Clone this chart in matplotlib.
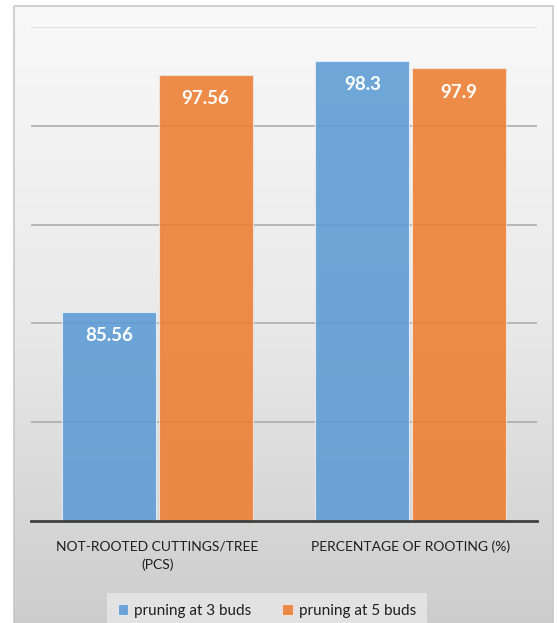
import numpy as np
import matplotlib.pyplot as plt
from matplotlib.patches import Rectangle

# data
categories = ['NOT-ROOTED CUTTINGS/TREE\n(PCS)', 'PERCENTAGE OF ROOTING (%)']
series_names = ['pruning at 3 buds', 'pruning at 5 buds']
buds3 = [85.56, 98.3]
buds5 = [97.56, 97.9]
value_labels3 = ['85.56', '98.3']
value_labels5 = ['97.56', '97.9']

plt.rcParams['font.family'] = ['Lato', 'DejaVu Sans']

W, H = 557, 623
fig = plt.figure(figsize=(W / 100, H / 100), dpi=100)
fig.patch.set_facecolor('white')

# chart-area background with a vertical gradient and a thin border
bg = fig.add_axes([0, 0, 1, 1], zorder=-10)
bg.set_xlim(0, W)
bg.set_ylim(H, 0)
bg.axis('off')
grad = np.linspace(0, 1, 256).reshape(-1, 1)
bg.imshow(grad, cmap=plt.matplotlib.colors.LinearSegmentedColormap.from_list(
    'g', ['#f9f9f9', '#e9e9e9', '#cbcbcb']), extent=[14, 553, H + 20, 6],
    aspect='auto', zorder=0)
bg.add_patch(Rectangle((14, 6), 539, H + 20, fill=False, edgecolor='#c8c8c8',
                       linewidth=1.2, zorder=1))

ax = fig.add_axes([31 / W, 1 - 521 / H, 506 / W, 494 / H])
ax.patch.set_alpha(0)

x = np.arange(len(categories))
width = 0.372
off = 0.19
colors = ['#5b9bd5', '#ed7d31']

b1 = ax.bar(x - off, buds3, width, bottom=0, color=colors[0], alpha=0.88,
            edgecolor='#e8eef5', linewidth=0.8, label=series_names[0], zorder=3)
b2 = ax.bar(x + off, buds5, width, bottom=0, color=colors[1], alpha=0.88,
            edgecolor='#f3e6de', linewidth=0.8, label=series_names[1], zorder=3)

for bars, labs in [(b1, value_labels3), (b2, value_labels5)]:
    for rect, lab in zip(bars, labs):
        ax.annotate(lab, (rect.get_x() + rect.get_width() / 2, rect.get_height()),
                    xytext=(0, -17), textcoords='offset points', ha='center',
                    va='center', color='white', fontsize=13.5, fontweight='bold',
                    zorder=5)

ax.set_ylim(75, 100)
ax.set_xlim(-0.5, 1.5)
ax.set_yticks([80, 85, 90, 95, 100])
ax.yaxis.grid(True, color='#a8a8a8', linewidth=1.1, zorder=1)
ax.get_ygridlines()[-1].set_color('#dadada')
ax.tick_params(axis='y', left=False, labelleft=False)
ax.set_xticks(x)
ax.set_xticklabels(categories, fontsize=10, color='#1e1e1e', linespacing=1.6)
ax.tick_params(axis='x', length=0, pad=14)
for s in ['top', 'right', 'left']:
    ax.spines[s].set_visible(False)
ax.spines['bottom'].set_color('#404040')
ax.spines['bottom'].set_linewidth(2)
ax.spines['bottom'].set_zorder(4)

leg = fig.legend(handles=[b1, b2], labels=series_names, loc='upper center',
                 bbox_to_anchor=(267 / W, 1 - 593 / H), borderaxespad=0, ncol=2,
                 frameon=True, facecolor='#e2e2e2', edgecolor='none',
                 framealpha=1, fancybox=False, fontsize=11, handlelength=0.7,
                 handleheight=0.7, handletextpad=0.4, columnspacing=2.0,
                 borderpad=0.7)
for t in leg.get_texts():
    t.set_color('#1e1e1e')

fig.savefig('out.png', dpi=100)
